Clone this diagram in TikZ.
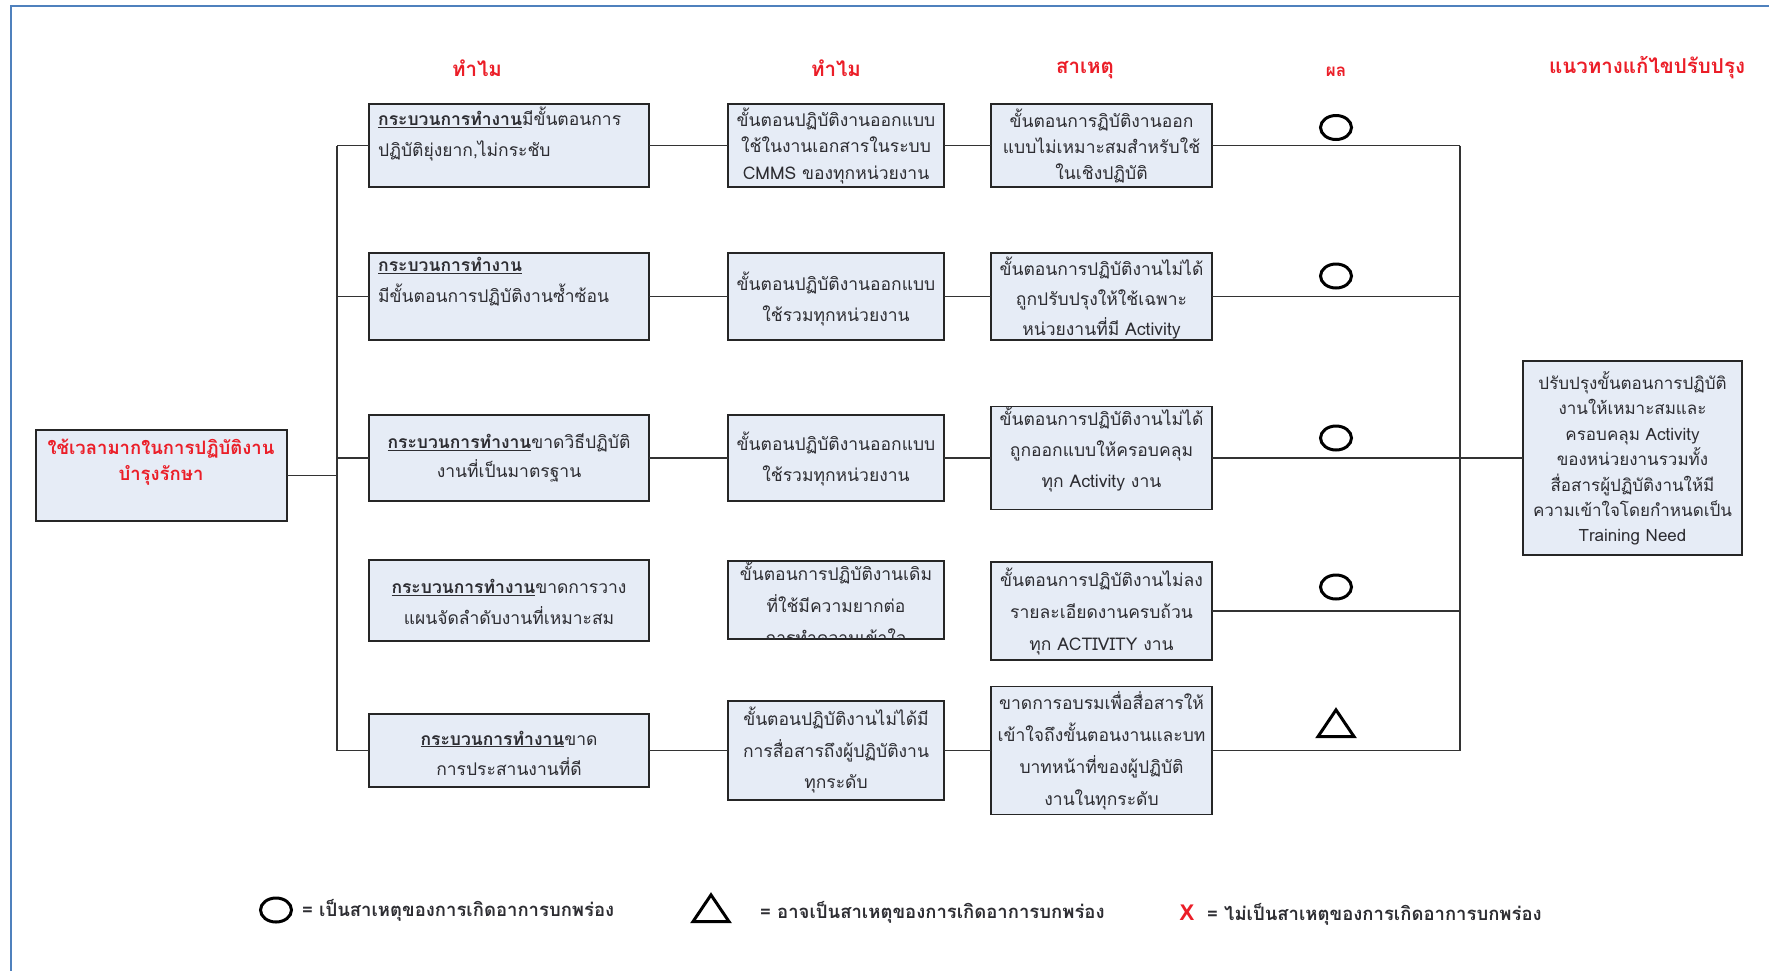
\documentclass[tikz,border=0pt]{standalone}
\usepackage{fontspec}
\setmainfont[Script=Thai]{Loma}
\usetikzlibrary{shapes.geometric}
\definecolor{framebl}{RGB}{79,129,189}
\definecolor{boxfill}{RGB}{230,236,246}
\definecolor{hdred}{RGB}{235,30,40}
\definecolor{txt}{RGB}{45,45,50}
\newcommand{\kw}[1]{\underline{\textbf{#1}}}
\begin{document}
\begin{tikzpicture}[x=1pt,y=-1pt,
  box/.style={draw=black!85, line width=1.8pt, fill=boxfill, inner sep=0pt, outer sep=0pt},
  txtc/.style={align=center, inner sep=0pt, text=txt, font=\fontsize{17.5}{#1}\selectfont},
  txtc/.default=29,
  txtl/.style={align=left, inner sep=0pt, text=txt, anchor=west, font=\fontsize{17.5}{31}\selectfont},
  header/.style={text=hdred, inner sep=0pt, font=\bfseries\fontsize{20.5}{24}\selectfont},
  wire/.style={draw=black!80, line width=1.4pt},
  circmark/.style={ellipse, draw=black, line width=3pt, minimum width=31pt, minimum height=24pt, inner sep=0pt},
  trimark/.style={isosceles triangle, isosceles triangle apex angle=68, shape border rotate=90, draw=black, line width=3pt, minimum height=24pt, minimum width=36pt, inner sep=0pt},
  legend/.style={anchor=west, inner sep=0pt, text=txt, font=\bfseries\fontsize{18.5}{22}\selectfont}
]
\useasboundingbox (0,0) rectangle (1769,970);
% page frame
\draw[framebl, line width=2.5pt] (11,972) -- (11,6) -- (1771,6);

% column headers
\node[header] (h1) at (477,68) {ทำไม};
\node[header] (h2) at (836,68) {ทำไม};
\node[header] (h3) at (1085,70) {สาเหตุ};
\node[header, font=\bfseries\fontsize{17}{20}\selectfont] (h4) at (1336,72) {ผล};
\node[header] (h5) at (1647,68) {แนวทางแก้ไขปรับปรุง};

% problem
\node[box, minimum width=251pt, minimum height=91pt] (root) at (161.5,475.5) {};
\node[txtc=26, text=hdred, font=\bfseries\fontsize{18.5}{26}\selectfont] (roott) at (161,462) {ใช้เวลามากในการปฏิบัติงาน\\บำรุงรักษา};

% first why
\node[box, minimum width=280pt, minimum height=83pt] (c1r1) at (509,145.5) {};
\node[box, minimum width=280pt, minimum height=87pt] (c1r2) at (509,296.5) {};
\node[box, minimum width=280pt, minimum height=86pt] (c1r3) at (509,458) {};
\node[box, minimum width=280pt, minimum height=81pt] (c1r4) at (509,600.5) {};
\node[box, minimum width=280pt, minimum height=73pt] (c1r5) at (509,750.5) {};
\node[txtl] (t1r1) at (378,134) {\kw{กระบวนการทำงาน}มีขั้นตอนการ\\ปฏิบัติยุ่งยาก,ไม่กระชับ};
\node[txtl] (t1r2) at (378,282) {\kw{กระบวนการทำงาน}\\มีขั้นตอนการปฏิบัติงานซ้ำซ้อน};
\node[txtc] (t1r3) at (509,458) {\kw{กระบวนการทำงาน}ขาดวิธีปฏิบัติ\\งานที่เป็นมาตรฐาน};
\node[txtc=31] (t1r4) at (509,602) {\kw{กระบวนการทำงาน}ขาดการวาง\\แผนจัดลำดับงานที่เหมาะสม};
\node[txtc=30] (t1r5) at (509,753) {\kw{กระบวนการทำงาน}ขาด\\การประสานงานที่ดี};

% second why
\node[box, minimum width=216pt, minimum height=83pt] (c2r1) at (836,145.5) {};
\node[box, minimum width=216pt, minimum height=87pt] (c2r2) at (836,296.5) {};
\node[box, minimum width=216pt, minimum height=86pt] (c2r3) at (836,458) {};
\node[box, minimum width=216pt, minimum height=78pt] (c2r4) at (836,600) {};
\node[box, minimum width=216pt, minimum height=99pt] (c2r5) at (836,750.5) {};
\node[txtc=26.5] (t2r1) at (836,146) {ขั้นตอนปฏิบัติงานออกแบบ\\ใช้ในงานเอกสารในระบบ\\CMMS ของทุกหน่วยงาน};
\node[txtc=31] (t2r2) at (836,299) {ขั้นตอนปฏิบัติงานออกแบบ\\ใช้รวมทุกหน่วยงาน};
\node[txtc=31] (t2r3) at (836,459) {ขั้นตอนปฏิบัติงานออกแบบ\\ใช้รวมทุกหน่วยงาน};
\begin{scope}
  \clip (c2r4.south west) rectangle (c2r4.north east);
  \node[txtc=32] (t2r4) at (836,603) {ขั้นตอนการปฏิบัติงานเดิม\\ที่ใช้มีความยากต่อ\\การทำความเข้าใจ};
\end{scope}
\node[txtc=31.5] (t2r5) at (836,750) {ขั้นตอนปฏิบัติงานไม่ได้มี\\การสื่อสารถึงผู้ปฏิบัติงาน\\ทุกระดับ};

% causes
\node[box, minimum width=221pt, minimum height=83pt] (c3r1) at (1101.5,145.5) {};
\node[box, minimum width=221pt, minimum height=87pt] (c3r2) at (1101.5,296.5) {};
\node[box, minimum width=221pt, minimum height=103pt] (c3r3) at (1101.5,458) {};
\node[box, minimum width=221pt, minimum height=98pt] (c3r4) at (1101.5,611) {};
\node[box, minimum width=221pt, minimum height=128pt] (c3r5) at (1101.5,750.5) {};
\node[txtc=26] (t3r1) at (1101.5,145.5) {ขั้นตอนการฏิบัติงานออก\\แบบไม่เหมาะสมสำหรับใช้\\ในเชิงปฏิบัติ};
\node[txtc=30] (t3r2) at (1101.5,298.5) {ขั้นตอนการปฏิบัติงานไม่ได้\\ถูกปรับปรุงให้ใช้เฉพาะ\\หน่วยงานที่มี Activity};
\node[txtc=31] (t3r3) at (1101.5,449) {ขั้นตอนการปฏิบัติงานไม่ได้\\ถูกออกแบบให้ครอบคลุม\\ทุก Activity งาน};
\node[txtc=32] (t3r4) at (1101.5,611.5) {ขั้นตอนการปฏิบัติงานไม่ลง\\รายละเอียดงานครบถ้วน\\ทุก ACTIVITY งาน};
\node[txtc=32] (t3r5) at (1101.5,751) {ขาดการอบรมเพื่อสื่อสารให้\\เข้าใจถึงขั้นตอนงานและบท\\บาทหน้าที่ของผู้ปฏิบัติ\\งานในทุกระดับ};

% results
\node[circmark] (m1) at (1336,127.5) {};
\node[circmark] (m2) at (1336,276) {};
\node[circmark] (m3) at (1336,438) {};
\node[circmark] (m4) at (1336,587) {};
\node[trimark] (m5) at (1336,727) {};

% improvement
\node[box, minimum width=219pt, minimum height=194pt] (fix) at (1632.5,458) {};
\node[txtc=25.4, font=\fontsize{17}{25.4}\selectfont] (fixt) at (1632.5,458.5) {ปรับปรุงขั้นตอนการปฏิบัติ\\งานให้เหมาะสมและ\\ครอบคลุม Activity\\ของหน่วยงานรวมทั้ง\\สื่อสารผู้ปฏิบัติงานให้มี\\ความเข้าใจโดยกำหนดเป็น\\Training Need};

% connectors
\coordinate (lt) at (337,0);
\coordinate (rt) at (1460,0);
\draw[wire] (root.east) -- (root.east -| lt);
\draw[wire] (c1r1.west -| lt) -- (c1r5.west -| lt);
\foreach \r in {1,2,3,5} {
  \draw[wire] (c1r\r.west -| lt) -- (c1r\r.west);
  \draw[wire] (c1r\r.east) -- (c2r\r.west);
  \draw[wire] (c2r\r.east) -- (c3r\r.west);
}
\foreach \r in {1,...,5} {
  \draw[wire] (c3r\r.east) -- (c3r\r.east -| rt);
}
\draw[wire] (c3r1.east -| rt) -- (c3r5.east -| rt);
\draw[wire] (fix.west -| rt) -- (fix.west);

% legend
\node[circmark] (lg1) at (276,910) {};
\node[legend] (lgt1) at (302,910) {= เป็นสาเหตุของการเกิดอาการบกพร่อง};
\node[trimark] (lg2) at (711,912) {};
\node[legend] (lgt2) at (760,912) {= อาจเป็นสาเหตุของการเกิดอาการบกพร่อง};
\node[inner sep=0pt, text=hdred, font=\bfseries\fontsize{22}{24}\selectfont] (lg3) at (1187,913) {X};
\node[legend] (lgt3) at (1207,914) {= ไม่เป็นสาเหตุของการเกิดอาการบกพร่อง};
\end{tikzpicture}
\end{document}
